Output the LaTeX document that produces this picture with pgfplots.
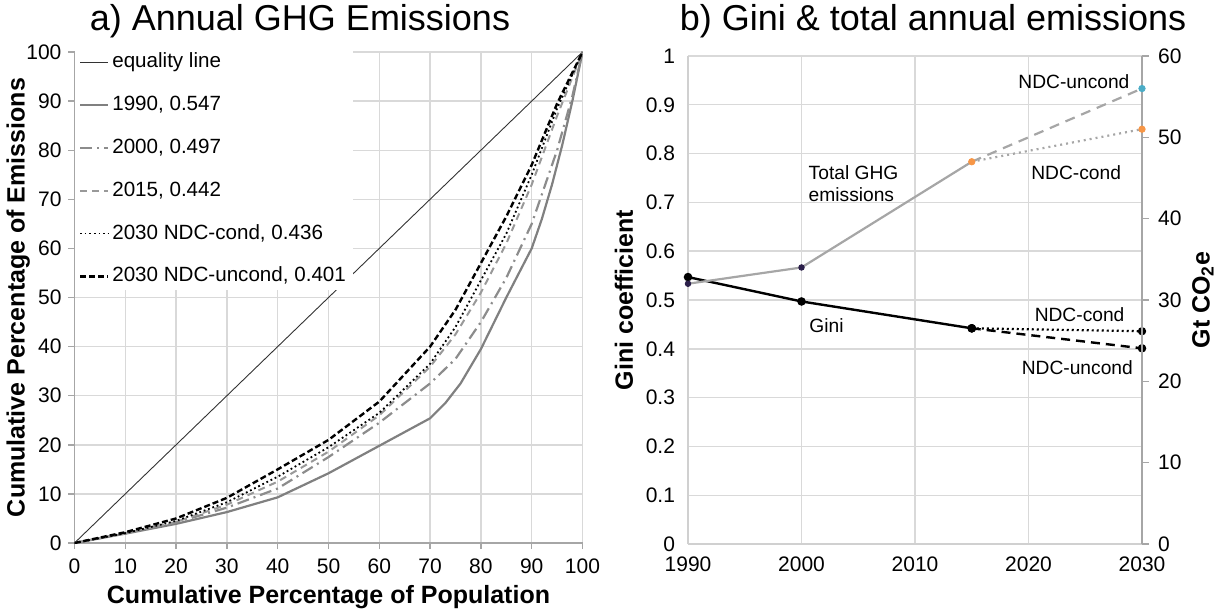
\documentclass[border=0pt]{standalone}
\usepackage{fontspec}
\setmainfont{Liberation Sans}
\usepackage{pgfplots}
\pgfplotsset{compat=1.18}
\definecolor{gridgray}{HTML}{D9D9D9}
\definecolor{axisgray}{HTML}{A6A6A6}
\definecolor{axislight}{HTML}{D0D0D0}
\definecolor{ghggray}{HTML}{A6A6A6}
\definecolor{mpurple}{HTML}{2B1F4A}
\definecolor{morange}{HTML}{F79646}
\definecolor{mcyan}{HTML}{4BACC6}
\begin{document}
\begin{tikzpicture}
\path[use as bounding box] (0,0) rectangle (614.5pt,305.5pt);
% titles
\node at (150pt,295pt) {\fontsize{18}{21}\selectfont a) Annual GHG Emissions};
\node at (466.5pt,295pt) {\fontsize{18}{21}\selectfont b) Gini \& total annual emissions};
% ---------------- left panel ----------------
\begin{axis}[
  at={(37.25pt,34pt)}, anchor=south west,
  scale only axis, width=254pt, height=245.5pt,
  xmin=0, xmax=100, ymin=0, ymax=100,
  xtick={0,10,...,100}, ytick={0,10,...,100},
  grid=major, major grid style={color=gridgray, line width=0.7pt},
  axis x line*=bottom, axis y line*=left,
  axis line style={color=axisgray, line width=0.9pt, -},
  tick style={color=axisgray, line width=0.7pt},
  tick align=outside, major tick length=3pt,
  tick label style={font=\fontsize{10.5}{12}\selectfont},
  /pgf/number format/assume math mode=true,
  xticklabel style={yshift=-1.5pt},
  xlabel={Cumulative Percentage of Population},
  ylabel={Cumulative Percentage of Emissions},
  label style={font=\bfseries\fontsize{12.5}{14}\selectfont},
  xlabel style={at={(axis description cs:0.5,-0.11)}, anchor=center},
  ylabel style={at={(axis description cs:-0.111,0.5)}, anchor=center},
  legend style={at={(0,1)}, anchor=north west, draw=none, fill=white, yshift=1.8pt,
    font=\fontsize{10.3}{12}\selectfont, row sep=7.9pt, inner xsep=2pt, inner ysep=0pt,
    nodes={text height=7.5pt, text depth=2pt, inner xsep=1.5pt}},
  legend cell align=left,
  legend image code/.code={\draw[#1] (0pt,0pt) -- (14pt,0pt);},
]
\addplot[color=black!80, line width=0.45pt] coordinates {(0,0) (100,100)};
\addlegendentry{equality line}
\addplot[color=black!50, line width=1.1pt] coordinates {
(0,0)(10,1.9)(20,3.9)(30,6.3)(40,9.3)(50,14.2)(60,19.8)(70,25.4)(73,28.5)(76,32.5)(80,39.5)(85,50)(88,56)(90,60)(92,66)(94,73)(96,81)(98,90)(100,100)};
\addlegendentry{1990, 0.547}
\addplot[color=black!45, line width=1.1pt, dash pattern=on 6pt off 2.5pt on 1pt off 2.5pt] coordinates {
(0,0)(10,2)(20,4.2)(30,7.2)(40,11.1)(50,17.5)(60,24.5)(70,32.5)(75,37.5)(80,45)(85,54)(90,65)(95,80)(98,91)(100,100)};
\addlegendentry{2000, 0.497}
\addplot[color=black!40, line width=1pt, dash pattern=on 3.5pt off 2.5pt] coordinates {
(0,0)(10,2)(20,4.3)(30,7.8)(40,12.5)(50,18.6)(60,26)(70,35.9)(75,42.5)(80,51)(85,61)(90,73)(95,87)(100,100)};
\addlegendentry{2015, 0.442}
\addplot[color=black, line width=0.9pt, dash pattern=on 0.9pt off 1.4pt] coordinates {
(0,0)(10,2)(20,4.5)(30,8.3)(40,13.5)(50,19.5)(60,26.5)(70,36.5)(75,44)(80,53.5)(85,63)(90,75)(95,88.5)(100,100)};
\addlegendentry{2030 NDC-cond, 0.436}
\addplot[color=black, line width=1.2pt, dash pattern=on 3pt off 1.5pt] coordinates {
(0,0)(10,2.2)(20,5)(30,9.2)(40,15)(50,21)(60,28.8)(70,40)(75,47.5)(80,57)(85,66.5)(90,77)(95,89.5)(100,100)};
\addlegendentry{2030 NDC-uncond, 0.401}
\end{axis}
% ---------------- right panel: Gini ----------------
\begin{axis}[
  at={(344pt,33.5pt)}, anchor=south west,
  scale only axis, width=227pt, height=244pt,
  xmin=1990, xmax=2030, ymin=0, ymax=1,
  xtick={1990,2000,2010,2020,2030},
  ytick={0,0.1,0.2,0.3,0.4,0.5,0.6,0.7,0.8,0.9,1},
  grid=major, major grid style={color=gridgray, line width=0.7pt},
  axis x line*=bottom, axis y line*=left,
  axis line style={color=axislight, line width=0.7pt, -},
  xtick style={draw=none}, ytick style={draw=none},
  tick label style={font=\fontsize{10.5}{12}\selectfont},
  /pgf/number format/assume math mode=true,
  xticklabel style={/pgf/number format/1000 sep={}, yshift=-3pt},
  yticklabel style={/pgf/number format/fixed, xshift=-3pt},
  ylabel={Gini coefficient},
  label style={font=\bfseries\fontsize{12.5}{14}\selectfont},
  ylabel style={at={(axis description cs:-0.141,0.5)}, anchor=center},
  clip=false,
]
\addplot[color=black, line width=1.2pt, mark=*, mark size=1.5pt] coordinates {(1990,0.547)(2000,0.497)(2015,0.442)};
\addplot[color=black, line width=1.1pt, dash pattern=on 1pt off 1.5pt, mark=*, mark size=1.5pt, mark options={solid}] coordinates {(2015,0.442)(2030,0.436)};
\addplot[color=black, line width=1.2pt, dash pattern=on 4.5pt off 3pt, mark=*, mark size=1.5pt, mark options={solid}] coordinates {(2015,0.442)(2030,0.401)};
\node[font=\fontsize{9.6}{11}\selectfont] at (axis cs:2024.0,0.947) {NDC-uncond};
\node[font=\fontsize{9.6}{11}\selectfont] at (axis cs:2024.2,0.762) {NDC-cond};
\node[font=\fontsize{9.6}{11}\selectfont, anchor=west, align=left, inner sep=0pt] at (axis cs:2000.6,0.739) {Total GHG\\emissions};
\node[font=\fontsize{9.6}{11}\selectfont] at (axis cs:2002.2,0.447) {Gini};
\node[font=\fontsize{9.6}{11}\selectfont] at (axis cs:2024.5,0.469) {NDC-cond};
\node[font=\fontsize{9.6}{11}\selectfont] at (axis cs:2024.3,0.361) {NDC-uncond};
\end{axis}
% ---------------- right panel: GHG ----------------
\begin{axis}[
  at={(344pt,33.5pt)}, anchor=south west,
  scale only axis, width=227pt, height=244pt,
  xmin=1990, xmax=2030, ymin=0, ymax=60,
  axis x line=none, axis y line*=right,
  ytick={0,10,20,30,40,50,60},
  axis line style={color=axisgray, line width=0.8pt, -},
  ytick style={color=axisgray, line width=0.7pt},
  tick align=outside, major tick length=3.5pt,
  tick label style={font=\fontsize{10.5}{12}\selectfont},
  /pgf/number format/assume math mode=true,
  yticklabel style={xshift=1pt},
  ylabel={Gt CO\textsubscript{2}e},
  label style={font=\bfseries\fontsize{12.5}{14}\selectfont},
  ylabel style={at={(axis description cs:1.134,0.5)}, anchor=center},
  clip=false,
]
\addplot[color=ghggray, line width=1.1pt] coordinates {(1990,32)(2000,34)(2015,47)};
\addplot[color=ghggray, line width=1.1pt, dash pattern=on 1pt off 2pt] coordinates {(2015,47)(2030,51)};
\addplot[color=ghggray, line width=1.1pt, dash pattern=on 5pt off 3.5pt] coordinates {(2015,47)(2030,56)};
\addplot[only marks, mark=*, mark size=1.4pt, color=mpurple] coordinates {(1990,32)(2000,34)};
\addplot[only marks, mark=*, mark size=1.6pt, color=morange] coordinates {(2015,47)(2030,51)};
\addplot[only marks, mark=*, mark size=1.6pt, color=mcyan] coordinates {(2030,56)};
\end{axis}
\end{tikzpicture}
\end{document}
